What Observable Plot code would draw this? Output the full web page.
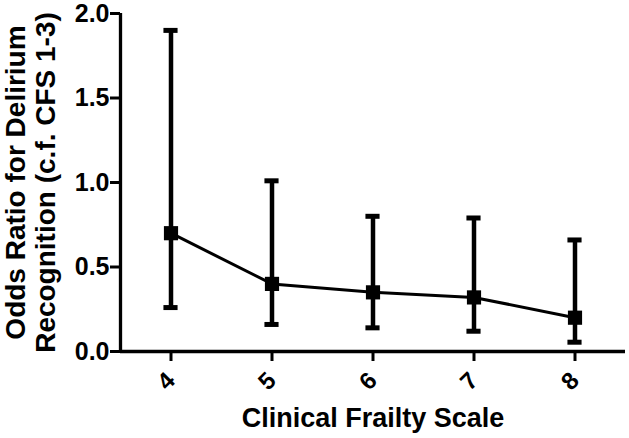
<!DOCTYPE html>
<html>
<head>
<meta charset="utf-8">
<script src="https://cdn.jsdelivr.net/npm/d3@7"></script>
<script src="https://cdn.jsdelivr.net/npm/@observablehq/plot@0.6"></script>
<style>
  html, body { margin: 0; padding: 0; background: #fff; }
  #chart svg { display: block; }
</style>
</head>
<body>
<div id="chart"></div>
<script>
const cfs = [4, 5, 6, 7, 8];
const oddsRatio = [0.70, 0.40, 0.35, 0.32, 0.20];
const lowerCI = [0.26, 0.16, 0.14, 0.12, 0.055];
const upperCI = [1.90, 1.01, 0.80, 0.79, 0.66];
const yTicks = [0, 0.5, 1.0, 1.5, 2.0];
const xTitle = "Clinical Frailty Scale";
const yTitle = "Odds Ratio for Delirium\nRecognition (c.f. CFS 1-3)";

const data = cfs.map((c, i) => ({cfs: c, or: oddsRatio[i], lo: lowerCI[i], hi: upperCI[i]}));
const capHalf = 0.07;

const chart = Plot.plot({
  width: 629,
  height: 438,
  marginTop: 13,
  marginBottom: 87,
  marginLeft: 120,
  marginRight: 4,
  style: {fontFamily: "'Liberation Sans', Arial, sans-serif", fontWeight: "bold", color: "#000", background: "#fff"},
  x: {domain: [3.5, 8.5], axis: null},
  y: {domain: [0, 2], axis: null},
  marks: [
    Plot.axisY({ticks: yTicks, tickFormat: d3.format(".1f"), tickSize: 10, tickPadding: 1, fontSize: 25, fontWeight: "bold", strokeWidth: 3, label: null}),
    Plot.axisX({ticks: cfs, tickFormat: d3.format("d"), tickSize: 10, tickPadding: 15, tickRotate: -45, fontSize: 24, fontWeight: "bold", strokeWidth: 3, label: null}),
    Plot.ruleX([3.5], {stroke: "#000", strokeWidth: 3.3}),
    Plot.ruleY([0], {stroke: "#000", strokeWidth: 3.3}),
    Plot.ruleX(data, {x: "cfs", y1: "lo", y2: "hi", stroke: "#000", strokeWidth: 4.5}),
    Plot.ruleY(data, {y: "hi", x1: d => d.cfs - capHalf, x2: d => d.cfs + capHalf, stroke: "#000", strokeWidth: 5}),
    Plot.ruleY(data, {y: "lo", x1: d => d.cfs - capHalf, x2: d => d.cfs + capHalf, stroke: "#000", strokeWidth: 5}),
    Plot.line(data, {x: "cfs", y: "or", stroke: "#000", strokeWidth: 3}),
    Plot.dot(data, {x: "cfs", y: "or", symbol: "square", r: 8, fill: "#000", stroke: "none"}),
    Plot.text([xTitle], {frameAnchor: "bottom", lineAnchor: "middle", dy: 67, fontSize: 27, fontWeight: "bold", fill: "#000"}),
    Plot.text([yTitle], {frameAnchor: "left", textAnchor: "middle", lineAnchor: "middle", rotate: -90, dx: -90, fontSize: 28, fontWeight: "bold", lineHeight: 1.07, fill: "#000"})
  ]
});
document.getElementById("chart").appendChild(chart);
</script>
</body>
</html>
